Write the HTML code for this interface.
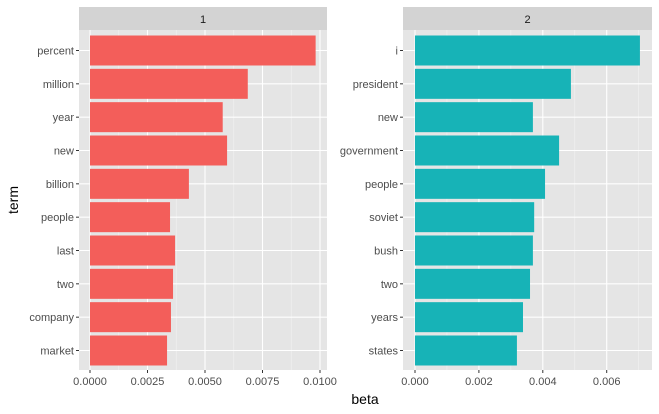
<!DOCTYPE html>
<html><head><meta charset="utf-8"><style>body{margin:0;background:#fff}svg{display:block;font-family:"Liberation Sans",Arial,sans-serif}</style></head>
<body>
<svg id="c" width="659" height="414"></svg>
<script>
const terms1 = ["percent","million","year","new","billion","people","last","two","company","market"];
const beta1 = [0.00981,0.00686,0.00577,0.00596,0.0043,0.00348,0.0037,0.00361,0.00352,0.00335];
const ticks1 = [0,0.0025,0.005,0.0075,0.01];
const tickLabels1 = ["0.0000","0.0025","0.0050","0.0075","0.0100"];
const terms2 = ["i","president","new","government","people","soviet","bush","two","years","states"];
const beta2 = [0.00704,0.00488,0.00369,0.00451,0.00407,0.00373,0.00369,0.0036,0.00338,0.00319];
const ticks2 = [0,0.002,0.004,0.006];
const tickLabels2 = ["0.000","0.002","0.004","0.006"];
const NS="http://www.w3.org/2000/svg";
const svg=document.getElementById('c');
function mk(t,a,p){const e=document.createElementNS(NS,t);for(const k in a)e.setAttribute(k,a[k]);(p||svg).appendChild(e);return e;}
function panel(id,label,x0,x1,zeroX,perUnit,terms,vals,ticks,tlabels,color){
  const g=mk('g',{});
  
  
  const top=30,bot=370;
  const xs=v=>zeroX+v*perUnit;
  const strip=mk('rect',{x:x0,y:7,width:x1-x0,height:23,fill:'#D3D3D3'},g);
  
  
  const st=mk('text',{x:(x0+x1)/2,y:23,'text-anchor':'middle','font-size':'11',fill:'#1A1A1A'},g);st.textContent=label;
  
  
  const bg=mk('rect',{x:x0,y:top,width:x1-x0,height:bot-top,fill:'#E5E5E5'},g);
  
  
  for(let i=0;i<ticks.length;i++){
    const step=ticks[1]-ticks[0];
    const mx=xs(ticks[i]+step/2);
    if(mx<x1) mk('line',{x1:mx,x2:mx,y1:top,y2:bot,stroke:'#F2F2F2','stroke-width':0.6},g);
  }
  const n=terms.length, stepY=(bot-top)/(n+0.2);
  const yc=i=>top+stepY*(0.6+i)+0.5;
  for(let i=0;i<n;i++) mk('line',{x1:x0,x2:x1,y1:yc(i),y2:yc(i),stroke:'#fff','stroke-width':1.1},g);
  ticks.forEach((t,i)=>{
    const x=xs(t);
    mk('line',{x1:x,x2:x,y1:top,y2:bot,stroke:'#fff','stroke-width':1.1},g);
    mk('line',{x1:x,x2:x,y1:bot,y2:bot+3,stroke:'#333','stroke-width':1},g);
    const tl=mk('text',{x:x,y:bot+15,'text-anchor':'middle','font-size':'11',fill:'#4D4D4D'},g);tl.textContent=tlabels[i];
    
    
  });
  terms.forEach((t,i)=>{
    const y=yc(i);
    const b=mk('rect',{x:xs(0),y:y-stepY*0.45,width:xs(vals[i])-xs(0),height:stepY*0.9,fill:color},g);
    
    
    mk('line',{x1:x0-3,x2:x0,y1:y,y2:y,stroke:'#333','stroke-width':1},g);
    const l=mk('text',{x:x0-5,y:y+4,'text-anchor':'end','font-size':'11',fill:'#4D4D4D'},g);l.textContent=t;
    
    
  });
}
panel('1','1',79,327,90,23000,terms1,beta1,ticks1,tickLabels1,'#F35E5A');
panel('2','2',403,652,415,31950,terms2,beta2,ticks2,tickLabels2,'#17B3B7');
const xt=mk('text',{x:365,y:404,'text-anchor':'middle','font-size':'14',fill:'#000'});xt.textContent='beta';


const yt=mk('text',{x:0,y:0,'text-anchor':'middle','font-size':'14',fill:'#000',transform:'translate(18,200) rotate(-90)'});yt.textContent='term';


</script>
</body></html>
